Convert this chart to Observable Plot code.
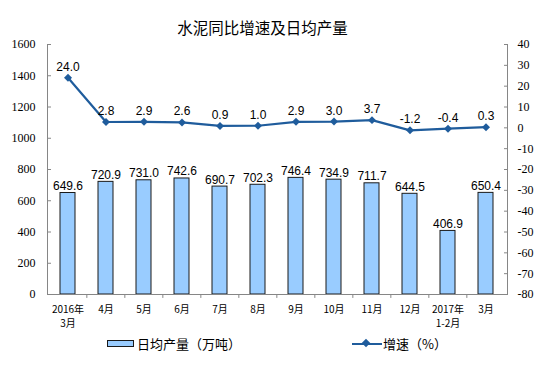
<!DOCTYPE html>
<html><head><meta charset="utf-8">
<script src="https://cdn.jsdelivr.net/npm/d3@7"></script>
<script src="https://cdn.jsdelivr.net/npm/@observablehq/plot@0.6"></script>
<style>
body{margin:0;background:#fff;}
#wrap{position:relative;width:550px;height:373px;overflow:hidden;}
#title{position:absolute;left:0;width:525px;top:16px;text-align:center;font:15.5px "Noto Sans CJK SC",sans-serif;color:#000;}
.leg{position:absolute;top:334px;font:13px "Noto Sans CJK SC",sans-serif;color:#000;display:flex;align-items:center;}
.sw1{width:25px;height:5px;background:#99CCFF;border:1px solid #1a1a1a;margin-right:3px;}
.sw2{position:relative;width:30px;height:2px;background:#1F5C9C;margin-right:1px;}
.sw2 i{position:absolute;left:11px;top:-3px;width:6px;height:6px;background:#1F5C9C;transform:rotate(45deg);}
</style></head>
<body><div id="wrap"><div id="title">水泥同比增速及日均产量</div>
<div class="leg" style="left:107px"><div class="sw1"></div>日均产量（万吨）</div>
<div class="leg" style="left:352px"><div class="sw2"><i></i></div>增速（%）</div>
</div>
<script>
const categories = ["2016年\n3月","4月","5月","6月","7月","8月","9月","10月","11月","12月","2017年\n1-2月","3月"];
const output = [649.6,720.9,731.0,742.6,690.7,702.3,746.4,734.9,711.7,644.5,406.9,650.4];
const growth = [24.0,2.8,2.9,2.6,0.9,1.0,2.9,3.0,3.7,-1.2,-0.4,0.3];
const leftTicks = [0,200,400,600,800,1000,1200,1400,1600];
const rightTicks = [-80,-70,-60,-50,-40,-30,-20,-10,0,10,20,30,40];

const data = categories.map((c,i)=>({c, v: output[i], g: growth[i]}));
const toY = g => (g + 80) * 1600 / 120;
const fromY = y => Math.round(y * 120 / 1600 - 80);
const mL = 47, mR = 43, W = 550;
const step = (W - mL - mR) / categories.length;
const lineColor = "#1F5C9C";
const axisColor = "#868686";
const serif = "'Liberation Serif', 'Times New Roman', serif";

const chart = Plot.plot({
  width: 550, height: 373,
  marginTop: 44, marginBottom: 79, marginLeft: mL, marginRight: mR,
  style: {fontFamily: "Liberation Sans, Arial, sans-serif", background: "transparent"},
  x: {type: "band", domain: categories, paddingInner: 0.6, paddingOuter: 0.3},
  y: {domain: [0, 1600]},
  marks: [
    Plot.barY(data, {x: "c", y: "v", fill: "#99CCFF", stroke: "#1a1a1a", strokeWidth: 1}),
    Plot.frame({anchor: "left", stroke: axisColor}),
    Plot.frame({anchor: "right", stroke: axisColor}),
    Plot.frame({anchor: "bottom", stroke: axisColor}),
    Plot.ruleX(categories.slice(1), {x: d => d, dx: -step / 2, y1: 0, y2: -25, stroke: axisColor, clip: false}),
    Plot.axisY({ticks: leftTicks, tickFormat: d => String(d), tickSize: -4, tickPadding: 16, stroke: axisColor, fontSize: 12, fill: "#000", label: null}),
    Plot.axisY({anchor: "right", ticks: rightTicks.map(toY), tickFormat: d => String(fromY(d)), tickSize: -4, tickPadding: 14, stroke: axisColor, fontSize: 12, fill: "#000", textAnchor: "start", label: null}),
    Plot.axisX({tickSize: 0, tickPadding: 9, fontSize: 10, fontFamily: "Noto Sans CJK SC, sans-serif", fill: "#000", label: null, lineHeight: 1.35}),
    Plot.text(data, {x: "c", y: "v", text: d => d.v.toFixed(1), lineAnchor: "bottom", dy: -3, fontSize: 12, fill: "#000"}),
    Plot.line(data, {x: "c", y: d => toY(d.g), stroke: lineColor, strokeWidth: 2.2}),
    Plot.dot(data, {x: "c", y: d => toY(d.g), symbol: "diamond2", r: 3.6, fill: lineColor, stroke: "none"}),
    Plot.text(data, {x: "c", y: d => toY(d.g), text: d => d.g.toFixed(1), lineAnchor: "bottom", dy: -7, fontSize: 12, fill: "#000"})
  ]
});
chart.style.position = "absolute";
chart.style.left = "0"; chart.style.top = "0";
d3.select(chart).selectAll("g[aria-label='y-axis tick label']")
  .attr("font-family", serif).style("font-family", serif);
document.getElementById("wrap").prepend(chart);
</script>
</body></html>
